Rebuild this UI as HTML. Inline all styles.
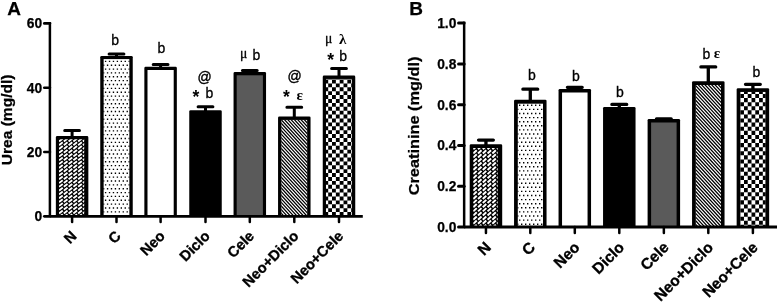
<!DOCTYPE html>
<html><head><meta charset="utf-8"><title>Figure</title>
<style>
html,body{margin:0;padding:0;background:#fff;}
body{width:778px;height:303px;overflow:hidden;font-family:"Liberation Sans",sans-serif;}
svg{display:block;will-change:transform;}
</style></head><body>
<svg width="778" height="303" viewBox="0 0 778 303">
<rect width="778" height="303" fill="#fff"/>
<defs>
<clipPath id="c1"><rect x="59.00" y="139.30" width="25.20" height="77.00"/></clipPath>
<clipPath id="c2"><rect x="103.40" y="59.10" width="26.20" height="157.20"/></clipPath>
<clipPath id="c3"><rect x="281.20" y="119.70" width="26.20" height="96.60"/></clipPath>
<clipPath id="c4"><rect x="325.90" y="78.80" width="26.20" height="137.50"/></clipPath>
<clipPath id="c5"><rect x="473.20" y="147.90" width="24.50" height="79.20"/></clipPath>
<clipPath id="c6"><rect x="517.55" y="103.40" width="25.50" height="123.70"/></clipPath>
<clipPath id="c7"><rect x="695.55" y="84.90" width="25.50" height="142.20"/></clipPath>
<clipPath id="c8"><rect x="740.15" y="91.80" width="25.50" height="135.30"/></clipPath>
</defs>
<path d="M49.9 22.07V216.3" fill="none" stroke="#000" stroke-width="2.5" stroke-linecap="butt"/>
<line x1="44.3" y1="23.40" x2="49.9" y2="23.40" stroke="#000" stroke-width="2.65" stroke-linecap="round"/>
<text x="42.1" y="28.30" text-anchor="end" font-family="Liberation Sans, sans-serif" font-weight="bold" font-size="13.8" stroke="#000" stroke-width="0.25">60</text>
<line x1="44.3" y1="87.70" x2="49.9" y2="87.70" stroke="#000" stroke-width="2.65" stroke-linecap="round"/>
<text x="42.1" y="92.60" text-anchor="end" font-family="Liberation Sans, sans-serif" font-weight="bold" font-size="13.8" stroke="#000" stroke-width="0.25">40</text>
<line x1="44.3" y1="152.00" x2="49.9" y2="152.00" stroke="#000" stroke-width="2.65" stroke-linecap="round"/>
<text x="42.1" y="156.90" text-anchor="end" font-family="Liberation Sans, sans-serif" font-weight="bold" font-size="13.8" stroke="#000" stroke-width="0.25">20</text>
<line x1="44.3" y1="216.30" x2="49.9" y2="216.30" stroke="#000" stroke-width="2.65" stroke-linecap="round"/>
<text x="42.1" y="221.20" text-anchor="end" font-family="Liberation Sans, sans-serif" font-weight="bold" font-size="13.8" stroke="#000" stroke-width="0.25">0</text>
<path d="M64.70 130.5H79.50M72.10 130.5V139.30" fill="none" stroke="#000" stroke-width="3.0" stroke-linecap="round"/>
<rect x="55.85" y="136.10" width="32.50" height="80.20" rx="1.3" fill="#000"/>
<g clip-path="url(#c1)"><rect x="59.00" y="139.30" width="26.20" height="77.00" fill="#000"/><path d="M54.28 137.59L57.98 134.75M59.05 137.59L62.75 134.75M63.82 137.59L67.52 134.75M68.59 137.59L72.29 134.75M73.36 137.59L77.06 134.75M78.13 137.59L81.83 134.75M82.90 137.59L86.60 134.75M54.28 141.38L57.98 138.54M59.05 141.38L62.75 138.54M63.82 141.38L67.52 138.54M68.59 141.38L72.29 138.54M73.36 141.38L77.06 138.54M78.13 141.38L81.83 138.54M82.90 141.38L86.60 138.54M54.28 145.17L57.98 142.33M59.05 145.17L62.75 142.33M63.82 145.17L67.52 142.33M68.59 145.17L72.29 142.33M73.36 145.17L77.06 142.33M78.13 145.17L81.83 142.33M82.90 145.17L86.60 142.33M54.28 148.96L57.98 146.12M59.05 148.96L62.75 146.12M63.82 148.96L67.52 146.12M68.59 148.96L72.29 146.12M73.36 148.96L77.06 146.12M78.13 148.96L81.83 146.12M82.90 148.96L86.60 146.12M54.28 152.75L57.98 149.91M59.05 152.75L62.75 149.91M63.82 152.75L67.52 149.91M68.59 152.75L72.29 149.91M73.36 152.75L77.06 149.91M78.13 152.75L81.83 149.91M82.90 152.75L86.60 149.91M54.28 156.54L57.98 153.70M59.05 156.54L62.75 153.70M63.82 156.54L67.52 153.70M68.59 156.54L72.29 153.70M73.36 156.54L77.06 153.70M78.13 156.54L81.83 153.70M82.90 156.54L86.60 153.70M54.28 160.33L57.98 157.49M59.05 160.33L62.75 157.49M63.82 160.33L67.52 157.49M68.59 160.33L72.29 157.49M73.36 160.33L77.06 157.49M78.13 160.33L81.83 157.49M82.90 160.33L86.60 157.49M54.28 164.12L57.98 161.28M59.05 164.12L62.75 161.28M63.82 164.12L67.52 161.28M68.59 164.12L72.29 161.28M73.36 164.12L77.06 161.28M78.13 164.12L81.83 161.28M82.90 164.12L86.60 161.28M54.28 167.91L57.98 165.07M59.05 167.91L62.75 165.07M63.82 167.91L67.52 165.07M68.59 167.91L72.29 165.07M73.36 167.91L77.06 165.07M78.13 167.91L81.83 165.07M82.90 167.91L86.60 165.07M54.28 171.70L57.98 168.86M59.05 171.70L62.75 168.86M63.82 171.70L67.52 168.86M68.59 171.70L72.29 168.86M73.36 171.70L77.06 168.86M78.13 171.70L81.83 168.86M82.90 171.70L86.60 168.86M54.28 175.49L57.98 172.65M59.05 175.49L62.75 172.65M63.82 175.49L67.52 172.65M68.59 175.49L72.29 172.65M73.36 175.49L77.06 172.65M78.13 175.49L81.83 172.65M82.90 175.49L86.60 172.65M54.28 179.28L57.98 176.44M59.05 179.28L62.75 176.44M63.82 179.28L67.52 176.44M68.59 179.28L72.29 176.44M73.36 179.28L77.06 176.44M78.13 179.28L81.83 176.44M82.90 179.28L86.60 176.44M54.28 183.07L57.98 180.23M59.05 183.07L62.75 180.23M63.82 183.07L67.52 180.23M68.59 183.07L72.29 180.23M73.36 183.07L77.06 180.23M78.13 183.07L81.83 180.23M82.90 183.07L86.60 180.23M54.28 186.86L57.98 184.02M59.05 186.86L62.75 184.02M63.82 186.86L67.52 184.02M68.59 186.86L72.29 184.02M73.36 186.86L77.06 184.02M78.13 186.86L81.83 184.02M82.90 186.86L86.60 184.02M54.28 190.65L57.98 187.81M59.05 190.65L62.75 187.81M63.82 190.65L67.52 187.81M68.59 190.65L72.29 187.81M73.36 190.65L77.06 187.81M78.13 190.65L81.83 187.81M82.90 190.65L86.60 187.81M54.28 194.44L57.98 191.60M59.05 194.44L62.75 191.60M63.82 194.44L67.52 191.60M68.59 194.44L72.29 191.60M73.36 194.44L77.06 191.60M78.13 194.44L81.83 191.60M82.90 194.44L86.60 191.60M54.28 198.23L57.98 195.39M59.05 198.23L62.75 195.39M63.82 198.23L67.52 195.39M68.59 198.23L72.29 195.39M73.36 198.23L77.06 195.39M78.13 198.23L81.83 195.39M82.90 198.23L86.60 195.39M54.28 202.02L57.98 199.18M59.05 202.02L62.75 199.18M63.82 202.02L67.52 199.18M68.59 202.02L72.29 199.18M73.36 202.02L77.06 199.18M78.13 202.02L81.83 199.18M82.90 202.02L86.60 199.18M54.28 205.81L57.98 202.97M59.05 205.81L62.75 202.97M63.82 205.81L67.52 202.97M68.59 205.81L72.29 202.97M73.36 205.81L77.06 202.97M78.13 205.81L81.83 202.97M82.90 205.81L86.60 202.97M54.28 209.60L57.98 206.76M59.05 209.60L62.75 206.76M63.82 209.60L67.52 206.76M68.59 209.60L72.29 206.76M73.36 209.60L77.06 206.76M78.13 209.60L81.83 206.76M82.90 209.60L86.60 206.76M54.28 213.39L57.98 210.55M59.05 213.39L62.75 210.55M63.82 213.39L67.52 210.55M68.59 213.39L72.29 210.55M73.36 213.39L77.06 210.55M78.13 213.39L81.83 210.55M82.90 213.39L86.60 210.55M54.28 217.18L57.98 214.34M59.05 217.18L62.75 214.34M63.82 217.18L67.52 214.34M68.59 217.18L72.29 214.34M73.36 217.18L77.06 214.34M78.13 217.18L81.83 214.34M82.90 217.18L86.60 214.34M54.28 220.97L57.98 218.13M59.05 220.97L62.75 218.13M63.82 220.97L67.52 218.13M68.59 220.97L72.29 218.13M73.36 220.97L77.06 218.13M78.13 220.97L81.83 218.13M82.90 220.97L86.60 218.13" stroke="#fff" stroke-width="1.9" stroke-linecap="butt" fill="none"/></g>
<line x1="72.10" y1="216.3" x2="72.10" y2="221.90" stroke="#000" stroke-width="2.5" stroke-linecap="round"/>
<path d="M109.10 53.9H123.90M116.50 53.9V59.10" fill="none" stroke="#000" stroke-width="3.0" stroke-linecap="round"/>
<rect x="100.25" y="55.90" width="32.50" height="160.40" rx="1.3" fill="#000"/>
<g clip-path="url(#c2)"><rect x="103.40" y="59.10" width="26.20" height="157.20" fill="#fff"/><path d="M100.99 60.66h1.36v1.36h-1.36zM104.92 60.66h1.36v1.36h-1.36zM108.85 60.66h1.36v1.36h-1.36zM112.78 60.66h1.36v1.36h-1.36zM116.71 60.66h1.36v1.36h-1.36zM120.64 60.66h1.36v1.36h-1.36zM124.57 60.66h1.36v1.36h-1.36zM128.50 60.66h1.36v1.36h-1.36zM100.99 68.38h1.36v1.36h-1.36zM104.92 68.38h1.36v1.36h-1.36zM108.85 68.38h1.36v1.36h-1.36zM112.78 68.38h1.36v1.36h-1.36zM116.71 68.38h1.36v1.36h-1.36zM120.64 68.38h1.36v1.36h-1.36zM124.57 68.38h1.36v1.36h-1.36zM128.50 68.38h1.36v1.36h-1.36zM100.99 76.10h1.36v1.36h-1.36zM104.92 76.10h1.36v1.36h-1.36zM108.85 76.10h1.36v1.36h-1.36zM112.78 76.10h1.36v1.36h-1.36zM116.71 76.10h1.36v1.36h-1.36zM120.64 76.10h1.36v1.36h-1.36zM124.57 76.10h1.36v1.36h-1.36zM128.50 76.10h1.36v1.36h-1.36zM100.99 83.82h1.36v1.36h-1.36zM104.92 83.82h1.36v1.36h-1.36zM108.85 83.82h1.36v1.36h-1.36zM112.78 83.82h1.36v1.36h-1.36zM116.71 83.82h1.36v1.36h-1.36zM120.64 83.82h1.36v1.36h-1.36zM124.57 83.82h1.36v1.36h-1.36zM128.50 83.82h1.36v1.36h-1.36zM100.99 91.54h1.36v1.36h-1.36zM104.92 91.54h1.36v1.36h-1.36zM108.85 91.54h1.36v1.36h-1.36zM112.78 91.54h1.36v1.36h-1.36zM116.71 91.54h1.36v1.36h-1.36zM120.64 91.54h1.36v1.36h-1.36zM124.57 91.54h1.36v1.36h-1.36zM128.50 91.54h1.36v1.36h-1.36zM100.99 99.26h1.36v1.36h-1.36zM104.92 99.26h1.36v1.36h-1.36zM108.85 99.26h1.36v1.36h-1.36zM112.78 99.26h1.36v1.36h-1.36zM116.71 99.26h1.36v1.36h-1.36zM120.64 99.26h1.36v1.36h-1.36zM124.57 99.26h1.36v1.36h-1.36zM128.50 99.26h1.36v1.36h-1.36zM100.99 106.98h1.36v1.36h-1.36zM104.92 106.98h1.36v1.36h-1.36zM108.85 106.98h1.36v1.36h-1.36zM112.78 106.98h1.36v1.36h-1.36zM116.71 106.98h1.36v1.36h-1.36zM120.64 106.98h1.36v1.36h-1.36zM124.57 106.98h1.36v1.36h-1.36zM128.50 106.98h1.36v1.36h-1.36zM100.99 114.70h1.36v1.36h-1.36zM104.92 114.70h1.36v1.36h-1.36zM108.85 114.70h1.36v1.36h-1.36zM112.78 114.70h1.36v1.36h-1.36zM116.71 114.70h1.36v1.36h-1.36zM120.64 114.70h1.36v1.36h-1.36zM124.57 114.70h1.36v1.36h-1.36zM128.50 114.70h1.36v1.36h-1.36zM100.99 122.42h1.36v1.36h-1.36zM104.92 122.42h1.36v1.36h-1.36zM108.85 122.42h1.36v1.36h-1.36zM112.78 122.42h1.36v1.36h-1.36zM116.71 122.42h1.36v1.36h-1.36zM120.64 122.42h1.36v1.36h-1.36zM124.57 122.42h1.36v1.36h-1.36zM128.50 122.42h1.36v1.36h-1.36zM100.99 130.14h1.36v1.36h-1.36zM104.92 130.14h1.36v1.36h-1.36zM108.85 130.14h1.36v1.36h-1.36zM112.78 130.14h1.36v1.36h-1.36zM116.71 130.14h1.36v1.36h-1.36zM120.64 130.14h1.36v1.36h-1.36zM124.57 130.14h1.36v1.36h-1.36zM128.50 130.14h1.36v1.36h-1.36zM100.99 137.86h1.36v1.36h-1.36zM104.92 137.86h1.36v1.36h-1.36zM108.85 137.86h1.36v1.36h-1.36zM112.78 137.86h1.36v1.36h-1.36zM116.71 137.86h1.36v1.36h-1.36zM120.64 137.86h1.36v1.36h-1.36zM124.57 137.86h1.36v1.36h-1.36zM128.50 137.86h1.36v1.36h-1.36zM100.99 145.58h1.36v1.36h-1.36zM104.92 145.58h1.36v1.36h-1.36zM108.85 145.58h1.36v1.36h-1.36zM112.78 145.58h1.36v1.36h-1.36zM116.71 145.58h1.36v1.36h-1.36zM120.64 145.58h1.36v1.36h-1.36zM124.57 145.58h1.36v1.36h-1.36zM128.50 145.58h1.36v1.36h-1.36zM100.99 153.30h1.36v1.36h-1.36zM104.92 153.30h1.36v1.36h-1.36zM108.85 153.30h1.36v1.36h-1.36zM112.78 153.30h1.36v1.36h-1.36zM116.71 153.30h1.36v1.36h-1.36zM120.64 153.30h1.36v1.36h-1.36zM124.57 153.30h1.36v1.36h-1.36zM128.50 153.30h1.36v1.36h-1.36zM100.99 161.02h1.36v1.36h-1.36zM104.92 161.02h1.36v1.36h-1.36zM108.85 161.02h1.36v1.36h-1.36zM112.78 161.02h1.36v1.36h-1.36zM116.71 161.02h1.36v1.36h-1.36zM120.64 161.02h1.36v1.36h-1.36zM124.57 161.02h1.36v1.36h-1.36zM128.50 161.02h1.36v1.36h-1.36zM100.99 168.74h1.36v1.36h-1.36zM104.92 168.74h1.36v1.36h-1.36zM108.85 168.74h1.36v1.36h-1.36zM112.78 168.74h1.36v1.36h-1.36zM116.71 168.74h1.36v1.36h-1.36zM120.64 168.74h1.36v1.36h-1.36zM124.57 168.74h1.36v1.36h-1.36zM128.50 168.74h1.36v1.36h-1.36zM100.99 176.46h1.36v1.36h-1.36zM104.92 176.46h1.36v1.36h-1.36zM108.85 176.46h1.36v1.36h-1.36zM112.78 176.46h1.36v1.36h-1.36zM116.71 176.46h1.36v1.36h-1.36zM120.64 176.46h1.36v1.36h-1.36zM124.57 176.46h1.36v1.36h-1.36zM128.50 176.46h1.36v1.36h-1.36zM100.99 184.18h1.36v1.36h-1.36zM104.92 184.18h1.36v1.36h-1.36zM108.85 184.18h1.36v1.36h-1.36zM112.78 184.18h1.36v1.36h-1.36zM116.71 184.18h1.36v1.36h-1.36zM120.64 184.18h1.36v1.36h-1.36zM124.57 184.18h1.36v1.36h-1.36zM128.50 184.18h1.36v1.36h-1.36zM100.99 191.90h1.36v1.36h-1.36zM104.92 191.90h1.36v1.36h-1.36zM108.85 191.90h1.36v1.36h-1.36zM112.78 191.90h1.36v1.36h-1.36zM116.71 191.90h1.36v1.36h-1.36zM120.64 191.90h1.36v1.36h-1.36zM124.57 191.90h1.36v1.36h-1.36zM128.50 191.90h1.36v1.36h-1.36zM100.99 199.62h1.36v1.36h-1.36zM104.92 199.62h1.36v1.36h-1.36zM108.85 199.62h1.36v1.36h-1.36zM112.78 199.62h1.36v1.36h-1.36zM116.71 199.62h1.36v1.36h-1.36zM120.64 199.62h1.36v1.36h-1.36zM124.57 199.62h1.36v1.36h-1.36zM128.50 199.62h1.36v1.36h-1.36zM100.99 207.34h1.36v1.36h-1.36zM104.92 207.34h1.36v1.36h-1.36zM108.85 207.34h1.36v1.36h-1.36zM112.78 207.34h1.36v1.36h-1.36zM116.71 207.34h1.36v1.36h-1.36zM120.64 207.34h1.36v1.36h-1.36zM124.57 207.34h1.36v1.36h-1.36zM128.50 207.34h1.36v1.36h-1.36zM100.99 215.06h1.36v1.36h-1.36zM104.92 215.06h1.36v1.36h-1.36zM108.85 215.06h1.36v1.36h-1.36zM112.78 215.06h1.36v1.36h-1.36zM116.71 215.06h1.36v1.36h-1.36zM120.64 215.06h1.36v1.36h-1.36zM124.57 215.06h1.36v1.36h-1.36zM128.50 215.06h1.36v1.36h-1.36zM102.95 56.80h1.36v1.36h-1.36zM106.88 56.80h1.36v1.36h-1.36zM110.81 56.80h1.36v1.36h-1.36zM114.75 56.80h1.36v1.36h-1.36zM118.68 56.80h1.36v1.36h-1.36zM122.61 56.80h1.36v1.36h-1.36zM126.54 56.80h1.36v1.36h-1.36zM130.47 56.80h1.36v1.36h-1.36zM102.95 64.52h1.36v1.36h-1.36zM106.88 64.52h1.36v1.36h-1.36zM110.81 64.52h1.36v1.36h-1.36zM114.75 64.52h1.36v1.36h-1.36zM118.68 64.52h1.36v1.36h-1.36zM122.61 64.52h1.36v1.36h-1.36zM126.54 64.52h1.36v1.36h-1.36zM130.47 64.52h1.36v1.36h-1.36zM102.95 72.24h1.36v1.36h-1.36zM106.88 72.24h1.36v1.36h-1.36zM110.81 72.24h1.36v1.36h-1.36zM114.75 72.24h1.36v1.36h-1.36zM118.68 72.24h1.36v1.36h-1.36zM122.61 72.24h1.36v1.36h-1.36zM126.54 72.24h1.36v1.36h-1.36zM130.47 72.24h1.36v1.36h-1.36zM102.95 79.96h1.36v1.36h-1.36zM106.88 79.96h1.36v1.36h-1.36zM110.81 79.96h1.36v1.36h-1.36zM114.75 79.96h1.36v1.36h-1.36zM118.68 79.96h1.36v1.36h-1.36zM122.61 79.96h1.36v1.36h-1.36zM126.54 79.96h1.36v1.36h-1.36zM130.47 79.96h1.36v1.36h-1.36zM102.95 87.68h1.36v1.36h-1.36zM106.88 87.68h1.36v1.36h-1.36zM110.81 87.68h1.36v1.36h-1.36zM114.75 87.68h1.36v1.36h-1.36zM118.68 87.68h1.36v1.36h-1.36zM122.61 87.68h1.36v1.36h-1.36zM126.54 87.68h1.36v1.36h-1.36zM130.47 87.68h1.36v1.36h-1.36zM102.95 95.40h1.36v1.36h-1.36zM106.88 95.40h1.36v1.36h-1.36zM110.81 95.40h1.36v1.36h-1.36zM114.75 95.40h1.36v1.36h-1.36zM118.68 95.40h1.36v1.36h-1.36zM122.61 95.40h1.36v1.36h-1.36zM126.54 95.40h1.36v1.36h-1.36zM130.47 95.40h1.36v1.36h-1.36zM102.95 103.12h1.36v1.36h-1.36zM106.88 103.12h1.36v1.36h-1.36zM110.81 103.12h1.36v1.36h-1.36zM114.75 103.12h1.36v1.36h-1.36zM118.68 103.12h1.36v1.36h-1.36zM122.61 103.12h1.36v1.36h-1.36zM126.54 103.12h1.36v1.36h-1.36zM130.47 103.12h1.36v1.36h-1.36zM102.95 110.84h1.36v1.36h-1.36zM106.88 110.84h1.36v1.36h-1.36zM110.81 110.84h1.36v1.36h-1.36zM114.75 110.84h1.36v1.36h-1.36zM118.68 110.84h1.36v1.36h-1.36zM122.61 110.84h1.36v1.36h-1.36zM126.54 110.84h1.36v1.36h-1.36zM130.47 110.84h1.36v1.36h-1.36zM102.95 118.56h1.36v1.36h-1.36zM106.88 118.56h1.36v1.36h-1.36zM110.81 118.56h1.36v1.36h-1.36zM114.75 118.56h1.36v1.36h-1.36zM118.68 118.56h1.36v1.36h-1.36zM122.61 118.56h1.36v1.36h-1.36zM126.54 118.56h1.36v1.36h-1.36zM130.47 118.56h1.36v1.36h-1.36zM102.95 126.28h1.36v1.36h-1.36zM106.88 126.28h1.36v1.36h-1.36zM110.81 126.28h1.36v1.36h-1.36zM114.75 126.28h1.36v1.36h-1.36zM118.68 126.28h1.36v1.36h-1.36zM122.61 126.28h1.36v1.36h-1.36zM126.54 126.28h1.36v1.36h-1.36zM130.47 126.28h1.36v1.36h-1.36zM102.95 134.00h1.36v1.36h-1.36zM106.88 134.00h1.36v1.36h-1.36zM110.81 134.00h1.36v1.36h-1.36zM114.75 134.00h1.36v1.36h-1.36zM118.68 134.00h1.36v1.36h-1.36zM122.61 134.00h1.36v1.36h-1.36zM126.54 134.00h1.36v1.36h-1.36zM130.47 134.00h1.36v1.36h-1.36zM102.95 141.72h1.36v1.36h-1.36zM106.88 141.72h1.36v1.36h-1.36zM110.81 141.72h1.36v1.36h-1.36zM114.75 141.72h1.36v1.36h-1.36zM118.68 141.72h1.36v1.36h-1.36zM122.61 141.72h1.36v1.36h-1.36zM126.54 141.72h1.36v1.36h-1.36zM130.47 141.72h1.36v1.36h-1.36zM102.95 149.44h1.36v1.36h-1.36zM106.88 149.44h1.36v1.36h-1.36zM110.81 149.44h1.36v1.36h-1.36zM114.75 149.44h1.36v1.36h-1.36zM118.68 149.44h1.36v1.36h-1.36zM122.61 149.44h1.36v1.36h-1.36zM126.54 149.44h1.36v1.36h-1.36zM130.47 149.44h1.36v1.36h-1.36zM102.95 157.16h1.36v1.36h-1.36zM106.88 157.16h1.36v1.36h-1.36zM110.81 157.16h1.36v1.36h-1.36zM114.75 157.16h1.36v1.36h-1.36zM118.68 157.16h1.36v1.36h-1.36zM122.61 157.16h1.36v1.36h-1.36zM126.54 157.16h1.36v1.36h-1.36zM130.47 157.16h1.36v1.36h-1.36zM102.95 164.88h1.36v1.36h-1.36zM106.88 164.88h1.36v1.36h-1.36zM110.81 164.88h1.36v1.36h-1.36zM114.75 164.88h1.36v1.36h-1.36zM118.68 164.88h1.36v1.36h-1.36zM122.61 164.88h1.36v1.36h-1.36zM126.54 164.88h1.36v1.36h-1.36zM130.47 164.88h1.36v1.36h-1.36zM102.95 172.60h1.36v1.36h-1.36zM106.88 172.60h1.36v1.36h-1.36zM110.81 172.60h1.36v1.36h-1.36zM114.75 172.60h1.36v1.36h-1.36zM118.68 172.60h1.36v1.36h-1.36zM122.61 172.60h1.36v1.36h-1.36zM126.54 172.60h1.36v1.36h-1.36zM130.47 172.60h1.36v1.36h-1.36zM102.95 180.32h1.36v1.36h-1.36zM106.88 180.32h1.36v1.36h-1.36zM110.81 180.32h1.36v1.36h-1.36zM114.75 180.32h1.36v1.36h-1.36zM118.68 180.32h1.36v1.36h-1.36zM122.61 180.32h1.36v1.36h-1.36zM126.54 180.32h1.36v1.36h-1.36zM130.47 180.32h1.36v1.36h-1.36zM102.95 188.04h1.36v1.36h-1.36zM106.88 188.04h1.36v1.36h-1.36zM110.81 188.04h1.36v1.36h-1.36zM114.75 188.04h1.36v1.36h-1.36zM118.68 188.04h1.36v1.36h-1.36zM122.61 188.04h1.36v1.36h-1.36zM126.54 188.04h1.36v1.36h-1.36zM130.47 188.04h1.36v1.36h-1.36zM102.95 195.76h1.36v1.36h-1.36zM106.88 195.76h1.36v1.36h-1.36zM110.81 195.76h1.36v1.36h-1.36zM114.75 195.76h1.36v1.36h-1.36zM118.68 195.76h1.36v1.36h-1.36zM122.61 195.76h1.36v1.36h-1.36zM126.54 195.76h1.36v1.36h-1.36zM130.47 195.76h1.36v1.36h-1.36zM102.95 203.48h1.36v1.36h-1.36zM106.88 203.48h1.36v1.36h-1.36zM110.81 203.48h1.36v1.36h-1.36zM114.75 203.48h1.36v1.36h-1.36zM118.68 203.48h1.36v1.36h-1.36zM122.61 203.48h1.36v1.36h-1.36zM126.54 203.48h1.36v1.36h-1.36zM130.47 203.48h1.36v1.36h-1.36zM102.95 211.20h1.36v1.36h-1.36zM106.88 211.20h1.36v1.36h-1.36zM110.81 211.20h1.36v1.36h-1.36zM114.75 211.20h1.36v1.36h-1.36zM118.68 211.20h1.36v1.36h-1.36zM122.61 211.20h1.36v1.36h-1.36zM126.54 211.20h1.36v1.36h-1.36zM130.47 211.20h1.36v1.36h-1.36z" fill="#000"/></g>
<line x1="116.50" y1="216.3" x2="116.50" y2="221.90" stroke="#000" stroke-width="2.5" stroke-linecap="round"/>
<path d="M153.20 64.5H168.00M160.60 64.5V70.00" fill="none" stroke="#000" stroke-width="3.0" stroke-linecap="round"/>
<rect x="144.35" y="66.80" width="32.50" height="149.50" rx="1.3" fill="#000"/>
<rect x="147.50" y="70.00" width="26.20" height="146.30" fill="#fff"/>
<line x1="160.60" y1="216.3" x2="160.60" y2="221.90" stroke="#000" stroke-width="2.5" stroke-linecap="round"/>
<path d="M198.10 106.7H212.90M205.50 106.7V113.40" fill="none" stroke="#000" stroke-width="3.0" stroke-linecap="round"/>
<rect x="189.25" y="110.20" width="32.50" height="106.10" rx="1.3" fill="#000"/>
<line x1="205.50" y1="216.3" x2="205.50" y2="221.90" stroke="#000" stroke-width="2.5" stroke-linecap="round"/>
<path d="M242.40 70.5H257.20M249.80 70.5V75.30" fill="none" stroke="#000" stroke-width="3.0" stroke-linecap="round"/>
<rect x="233.55" y="72.10" width="32.50" height="144.20" rx="1.3" fill="#000"/>
<rect x="236.70" y="75.30" width="26.20" height="141.00" fill="#5a5a5a"/>
<line x1="249.80" y1="216.3" x2="249.80" y2="221.90" stroke="#000" stroke-width="2.5" stroke-linecap="round"/>
<path d="M286.90 107.3H301.70M294.30 107.3V119.70" fill="none" stroke="#000" stroke-width="3.0" stroke-linecap="round"/>
<rect x="278.05" y="116.50" width="32.50" height="99.80" rx="1.3" fill="#000"/>
<g clip-path="url(#c3)"><rect x="281.20" y="119.70" width="26.20" height="96.60" fill="#fff"/><path d="M186.99 117.70L279.29 218.30M190.29 117.70L282.59 218.30M193.59 117.70L285.89 218.30M196.89 117.70L289.19 218.30M200.19 117.70L292.49 218.30M203.49 117.70L295.79 218.30M206.79 117.70L299.09 218.30M210.09 117.70L302.39 218.30M213.39 117.70L305.69 218.30M216.69 117.70L308.99 218.30M219.99 117.70L312.29 218.30M223.29 117.70L315.59 218.30M226.59 117.70L318.89 218.30M229.89 117.70L322.19 218.30M233.19 117.70L325.49 218.30M236.49 117.70L328.79 218.30M239.79 117.70L332.09 218.30M243.09 117.70L335.39 218.30M246.39 117.70L338.69 218.30M249.69 117.70L341.99 218.30M252.99 117.70L345.29 218.30M256.29 117.70L348.59 218.30M259.59 117.70L351.89 218.30M262.89 117.70L355.19 218.30M266.19 117.70L358.49 218.30M269.49 117.70L361.79 218.30M272.79 117.70L365.09 218.30M276.09 117.70L368.39 218.30M279.39 117.70L371.69 218.30M282.69 117.70L374.99 218.30M285.99 117.70L378.29 218.30M289.29 117.70L381.59 218.30M292.59 117.70L384.89 218.30M295.89 117.70L388.19 218.30M299.19 117.70L391.49 218.30M302.49 117.70L394.79 218.30M305.79 117.70L398.09 218.30M309.09 117.70L401.39 218.30" stroke="#000" stroke-width="1.26" fill="none"/></g>
<line x1="294.30" y1="216.3" x2="294.30" y2="221.90" stroke="#000" stroke-width="2.5" stroke-linecap="round"/>
<path d="M331.60 68.5H346.40M339.00 68.5V78.80" fill="none" stroke="#000" stroke-width="3.0" stroke-linecap="round"/>
<rect x="322.75" y="75.60" width="32.50" height="140.70" rx="1.3" fill="#000"/>
<g clip-path="url(#c4)"><rect x="325.90" y="78.80" width="26.20" height="137.50" fill="#fff"/><path d="M324.37 71.70h3.83v3.90h-3.83zM332.03 71.70h3.83v3.90h-3.83zM339.69 71.70h3.83v3.90h-3.83zM347.35 71.70h3.83v3.90h-3.83zM355.01 71.70h3.83v3.90h-3.83zM320.54 75.60h3.83v3.90h-3.83zM328.20 75.60h3.83v3.90h-3.83zM335.86 75.60h3.83v3.90h-3.83zM343.52 75.60h3.83v3.90h-3.83zM351.18 75.60h3.83v3.90h-3.83zM358.84 75.60h3.83v3.90h-3.83zM324.37 79.50h3.83v3.90h-3.83zM332.03 79.50h3.83v3.90h-3.83zM339.69 79.50h3.83v3.90h-3.83zM347.35 79.50h3.83v3.90h-3.83zM355.01 79.50h3.83v3.90h-3.83zM320.54 83.40h3.83v3.90h-3.83zM328.20 83.40h3.83v3.90h-3.83zM335.86 83.40h3.83v3.90h-3.83zM343.52 83.40h3.83v3.90h-3.83zM351.18 83.40h3.83v3.90h-3.83zM358.84 83.40h3.83v3.90h-3.83zM324.37 87.30h3.83v3.90h-3.83zM332.03 87.30h3.83v3.90h-3.83zM339.69 87.30h3.83v3.90h-3.83zM347.35 87.30h3.83v3.90h-3.83zM355.01 87.30h3.83v3.90h-3.83zM320.54 91.20h3.83v3.90h-3.83zM328.20 91.20h3.83v3.90h-3.83zM335.86 91.20h3.83v3.90h-3.83zM343.52 91.20h3.83v3.90h-3.83zM351.18 91.20h3.83v3.90h-3.83zM358.84 91.20h3.83v3.90h-3.83zM324.37 95.10h3.83v3.90h-3.83zM332.03 95.10h3.83v3.90h-3.83zM339.69 95.10h3.83v3.90h-3.83zM347.35 95.10h3.83v3.90h-3.83zM355.01 95.10h3.83v3.90h-3.83zM320.54 99.00h3.83v3.90h-3.83zM328.20 99.00h3.83v3.90h-3.83zM335.86 99.00h3.83v3.90h-3.83zM343.52 99.00h3.83v3.90h-3.83zM351.18 99.00h3.83v3.90h-3.83zM358.84 99.00h3.83v3.90h-3.83zM324.37 102.90h3.83v3.90h-3.83zM332.03 102.90h3.83v3.90h-3.83zM339.69 102.90h3.83v3.90h-3.83zM347.35 102.90h3.83v3.90h-3.83zM355.01 102.90h3.83v3.90h-3.83zM320.54 106.80h3.83v3.90h-3.83zM328.20 106.80h3.83v3.90h-3.83zM335.86 106.80h3.83v3.90h-3.83zM343.52 106.80h3.83v3.90h-3.83zM351.18 106.80h3.83v3.90h-3.83zM358.84 106.80h3.83v3.90h-3.83zM324.37 110.70h3.83v3.90h-3.83zM332.03 110.70h3.83v3.90h-3.83zM339.69 110.70h3.83v3.90h-3.83zM347.35 110.70h3.83v3.90h-3.83zM355.01 110.70h3.83v3.90h-3.83zM320.54 114.60h3.83v3.90h-3.83zM328.20 114.60h3.83v3.90h-3.83zM335.86 114.60h3.83v3.90h-3.83zM343.52 114.60h3.83v3.90h-3.83zM351.18 114.60h3.83v3.90h-3.83zM358.84 114.60h3.83v3.90h-3.83zM324.37 118.50h3.83v3.90h-3.83zM332.03 118.50h3.83v3.90h-3.83zM339.69 118.50h3.83v3.90h-3.83zM347.35 118.50h3.83v3.90h-3.83zM355.01 118.50h3.83v3.90h-3.83zM320.54 122.40h3.83v3.90h-3.83zM328.20 122.40h3.83v3.90h-3.83zM335.86 122.40h3.83v3.90h-3.83zM343.52 122.40h3.83v3.90h-3.83zM351.18 122.40h3.83v3.90h-3.83zM358.84 122.40h3.83v3.90h-3.83zM324.37 126.30h3.83v3.90h-3.83zM332.03 126.30h3.83v3.90h-3.83zM339.69 126.30h3.83v3.90h-3.83zM347.35 126.30h3.83v3.90h-3.83zM355.01 126.30h3.83v3.90h-3.83zM320.54 130.20h3.83v3.90h-3.83zM328.20 130.20h3.83v3.90h-3.83zM335.86 130.20h3.83v3.90h-3.83zM343.52 130.20h3.83v3.90h-3.83zM351.18 130.20h3.83v3.90h-3.83zM358.84 130.20h3.83v3.90h-3.83zM324.37 134.10h3.83v3.90h-3.83zM332.03 134.10h3.83v3.90h-3.83zM339.69 134.10h3.83v3.90h-3.83zM347.35 134.10h3.83v3.90h-3.83zM355.01 134.10h3.83v3.90h-3.83zM320.54 138.00h3.83v3.90h-3.83zM328.20 138.00h3.83v3.90h-3.83zM335.86 138.00h3.83v3.90h-3.83zM343.52 138.00h3.83v3.90h-3.83zM351.18 138.00h3.83v3.90h-3.83zM358.84 138.00h3.83v3.90h-3.83zM324.37 141.90h3.83v3.90h-3.83zM332.03 141.90h3.83v3.90h-3.83zM339.69 141.90h3.83v3.90h-3.83zM347.35 141.90h3.83v3.90h-3.83zM355.01 141.90h3.83v3.90h-3.83zM320.54 145.80h3.83v3.90h-3.83zM328.20 145.80h3.83v3.90h-3.83zM335.86 145.80h3.83v3.90h-3.83zM343.52 145.80h3.83v3.90h-3.83zM351.18 145.80h3.83v3.90h-3.83zM358.84 145.80h3.83v3.90h-3.83zM324.37 149.70h3.83v3.90h-3.83zM332.03 149.70h3.83v3.90h-3.83zM339.69 149.70h3.83v3.90h-3.83zM347.35 149.70h3.83v3.90h-3.83zM355.01 149.70h3.83v3.90h-3.83zM320.54 153.60h3.83v3.90h-3.83zM328.20 153.60h3.83v3.90h-3.83zM335.86 153.60h3.83v3.90h-3.83zM343.52 153.60h3.83v3.90h-3.83zM351.18 153.60h3.83v3.90h-3.83zM358.84 153.60h3.83v3.90h-3.83zM324.37 157.50h3.83v3.90h-3.83zM332.03 157.50h3.83v3.90h-3.83zM339.69 157.50h3.83v3.90h-3.83zM347.35 157.50h3.83v3.90h-3.83zM355.01 157.50h3.83v3.90h-3.83zM320.54 161.40h3.83v3.90h-3.83zM328.20 161.40h3.83v3.90h-3.83zM335.86 161.40h3.83v3.90h-3.83zM343.52 161.40h3.83v3.90h-3.83zM351.18 161.40h3.83v3.90h-3.83zM358.84 161.40h3.83v3.90h-3.83zM324.37 165.30h3.83v3.90h-3.83zM332.03 165.30h3.83v3.90h-3.83zM339.69 165.30h3.83v3.90h-3.83zM347.35 165.30h3.83v3.90h-3.83zM355.01 165.30h3.83v3.90h-3.83zM320.54 169.20h3.83v3.90h-3.83zM328.20 169.20h3.83v3.90h-3.83zM335.86 169.20h3.83v3.90h-3.83zM343.52 169.20h3.83v3.90h-3.83zM351.18 169.20h3.83v3.90h-3.83zM358.84 169.20h3.83v3.90h-3.83zM324.37 173.10h3.83v3.90h-3.83zM332.03 173.10h3.83v3.90h-3.83zM339.69 173.10h3.83v3.90h-3.83zM347.35 173.10h3.83v3.90h-3.83zM355.01 173.10h3.83v3.90h-3.83zM320.54 177.00h3.83v3.90h-3.83zM328.20 177.00h3.83v3.90h-3.83zM335.86 177.00h3.83v3.90h-3.83zM343.52 177.00h3.83v3.90h-3.83zM351.18 177.00h3.83v3.90h-3.83zM358.84 177.00h3.83v3.90h-3.83zM324.37 180.90h3.83v3.90h-3.83zM332.03 180.90h3.83v3.90h-3.83zM339.69 180.90h3.83v3.90h-3.83zM347.35 180.90h3.83v3.90h-3.83zM355.01 180.90h3.83v3.90h-3.83zM320.54 184.80h3.83v3.90h-3.83zM328.20 184.80h3.83v3.90h-3.83zM335.86 184.80h3.83v3.90h-3.83zM343.52 184.80h3.83v3.90h-3.83zM351.18 184.80h3.83v3.90h-3.83zM358.84 184.80h3.83v3.90h-3.83zM324.37 188.70h3.83v3.90h-3.83zM332.03 188.70h3.83v3.90h-3.83zM339.69 188.70h3.83v3.90h-3.83zM347.35 188.70h3.83v3.90h-3.83zM355.01 188.70h3.83v3.90h-3.83zM320.54 192.60h3.83v3.90h-3.83zM328.20 192.60h3.83v3.90h-3.83zM335.86 192.60h3.83v3.90h-3.83zM343.52 192.60h3.83v3.90h-3.83zM351.18 192.60h3.83v3.90h-3.83zM358.84 192.60h3.83v3.90h-3.83zM324.37 196.50h3.83v3.90h-3.83zM332.03 196.50h3.83v3.90h-3.83zM339.69 196.50h3.83v3.90h-3.83zM347.35 196.50h3.83v3.90h-3.83zM355.01 196.50h3.83v3.90h-3.83zM320.54 200.40h3.83v3.90h-3.83zM328.20 200.40h3.83v3.90h-3.83zM335.86 200.40h3.83v3.90h-3.83zM343.52 200.40h3.83v3.90h-3.83zM351.18 200.40h3.83v3.90h-3.83zM358.84 200.40h3.83v3.90h-3.83zM324.37 204.30h3.83v3.90h-3.83zM332.03 204.30h3.83v3.90h-3.83zM339.69 204.30h3.83v3.90h-3.83zM347.35 204.30h3.83v3.90h-3.83zM355.01 204.30h3.83v3.90h-3.83zM320.54 208.20h3.83v3.90h-3.83zM328.20 208.20h3.83v3.90h-3.83zM335.86 208.20h3.83v3.90h-3.83zM343.52 208.20h3.83v3.90h-3.83zM351.18 208.20h3.83v3.90h-3.83zM358.84 208.20h3.83v3.90h-3.83zM324.37 212.10h3.83v3.90h-3.83zM332.03 212.10h3.83v3.90h-3.83zM339.69 212.10h3.83v3.90h-3.83zM347.35 212.10h3.83v3.90h-3.83zM355.01 212.10h3.83v3.90h-3.83zM320.54 216.00h3.83v3.90h-3.83zM328.20 216.00h3.83v3.90h-3.83zM335.86 216.00h3.83v3.90h-3.83zM343.52 216.00h3.83v3.90h-3.83zM351.18 216.00h3.83v3.90h-3.83zM358.84 216.00h3.83v3.90h-3.83zM324.37 219.90h3.83v3.90h-3.83zM332.03 219.90h3.83v3.90h-3.83zM339.69 219.90h3.83v3.90h-3.83zM347.35 219.90h3.83v3.90h-3.83zM355.01 219.90h3.83v3.90h-3.83zM320.54 223.80h3.83v3.90h-3.83zM328.20 223.80h3.83v3.90h-3.83zM335.86 223.80h3.83v3.90h-3.83zM343.52 223.80h3.83v3.90h-3.83zM351.18 223.80h3.83v3.90h-3.83zM358.84 223.80h3.83v3.90h-3.83z" fill="#000"/></g>
<line x1="339.00" y1="216.3" x2="339.00" y2="221.90" stroke="#000" stroke-width="2.5" stroke-linecap="round"/>
<line x1="49.9" y1="216.3" x2="362.8" y2="216.3" stroke="#000" stroke-width="2.65" stroke-linecap="butt"/>
<text transform="translate(77.40 236.90) rotate(-45)" text-anchor="end" font-family="Liberation Sans, sans-serif" font-weight="bold" font-size="14.7" stroke="#000" stroke-width="0.35">N</text>
<text transform="translate(121.80 236.90) rotate(-45)" text-anchor="end" font-family="Liberation Sans, sans-serif" font-weight="bold" font-size="14.7" stroke="#000" stroke-width="0.35">C</text>
<text transform="translate(165.90 236.90) rotate(-45)" text-anchor="end" font-family="Liberation Sans, sans-serif" font-weight="bold" font-size="14.7" stroke="#000" stroke-width="0.35">Neo</text>
<text transform="translate(210.80 236.90) rotate(-45)" text-anchor="end" font-family="Liberation Sans, sans-serif" font-weight="bold" font-size="14.7" stroke="#000" stroke-width="0.35">Diclo</text>
<text transform="translate(255.10 236.90) rotate(-45)" text-anchor="end" font-family="Liberation Sans, sans-serif" font-weight="bold" font-size="14.7" stroke="#000" stroke-width="0.35">Cele</text>
<text transform="translate(299.60 236.90) rotate(-45)" text-anchor="end" font-family="Liberation Sans, sans-serif" font-weight="bold" font-size="14.7" stroke="#000" stroke-width="0.35">Neo+Diclo</text>
<text transform="translate(344.30 236.90) rotate(-45)" text-anchor="end" font-family="Liberation Sans, sans-serif" font-weight="bold" font-size="14.7" stroke="#000" stroke-width="0.35">Neo+Cele</text>
<text transform="translate(12.4 119.9) rotate(-90) scale(1.128 1)" text-anchor="middle" font-family="Liberation Sans, sans-serif" font-weight="bold" font-size="13.8" stroke="#000" stroke-width="0.25">Urea (mg/dl)</text>
<text x="7.2" y="15" font-family="Liberation Sans, sans-serif" font-weight="bold" font-size="19" stroke="#000" stroke-width="0.25">A</text>
<path d="M464.15 21.60V227.1" fill="none" stroke="#000" stroke-width="2.5" stroke-linecap="butt"/>
<line x1="458.54999999999995" y1="23.10" x2="464.15" y2="23.10" stroke="#000" stroke-width="3.0" stroke-linecap="round"/>
<text x="456.34999999999997" y="28.00" text-anchor="end" font-family="Liberation Sans, sans-serif" font-weight="bold" font-size="13.8" stroke="#000" stroke-width="0.25">1.0</text>
<line x1="458.54999999999995" y1="63.90" x2="464.15" y2="63.90" stroke="#000" stroke-width="3.0" stroke-linecap="round"/>
<text x="456.34999999999997" y="68.80" text-anchor="end" font-family="Liberation Sans, sans-serif" font-weight="bold" font-size="13.8" stroke="#000" stroke-width="0.25">0.8</text>
<line x1="458.54999999999995" y1="104.70" x2="464.15" y2="104.70" stroke="#000" stroke-width="3.0" stroke-linecap="round"/>
<text x="456.34999999999997" y="109.60" text-anchor="end" font-family="Liberation Sans, sans-serif" font-weight="bold" font-size="13.8" stroke="#000" stroke-width="0.25">0.6</text>
<line x1="458.54999999999995" y1="145.50" x2="464.15" y2="145.50" stroke="#000" stroke-width="3.0" stroke-linecap="round"/>
<text x="456.34999999999997" y="150.40" text-anchor="end" font-family="Liberation Sans, sans-serif" font-weight="bold" font-size="13.8" stroke="#000" stroke-width="0.25">0.4</text>
<line x1="458.54999999999995" y1="186.30" x2="464.15" y2="186.30" stroke="#000" stroke-width="3.0" stroke-linecap="round"/>
<text x="456.34999999999997" y="191.20" text-anchor="end" font-family="Liberation Sans, sans-serif" font-weight="bold" font-size="13.8" stroke="#000" stroke-width="0.25">0.2</text>
<line x1="458.54999999999995" y1="227.10" x2="464.15" y2="227.10" stroke="#000" stroke-width="3.0" stroke-linecap="round"/>
<text x="456.34999999999997" y="232.00" text-anchor="end" font-family="Liberation Sans, sans-serif" font-weight="bold" font-size="13.8" stroke="#000" stroke-width="0.25">0.0</text>
<path d="M478.55 140.1H493.35M485.95 140.1V147.90" fill="none" stroke="#000" stroke-width="3.3" stroke-linecap="round"/>
<rect x="469.70" y="144.30" width="32.50" height="82.80" rx="1.3" fill="#000"/>
<g clip-path="url(#c5)"><rect x="473.20" y="147.90" width="25.50" height="79.20" fill="#000"/><path d="M468.48 149.28L471.98 146.04M473.25 149.28L476.75 146.04M478.02 149.28L481.52 146.04M482.79 149.28L486.29 146.04M487.56 149.28L491.06 146.04M492.33 149.28L495.83 146.04M497.10 149.28L500.60 146.04M468.48 153.42L471.98 150.18M473.25 153.42L476.75 150.18M478.02 153.42L481.52 150.18M482.79 153.42L486.29 150.18M487.56 153.42L491.06 150.18M492.33 153.42L495.83 150.18M497.10 153.42L500.60 150.18M468.48 157.56L471.98 154.32M473.25 157.56L476.75 154.32M478.02 157.56L481.52 154.32M482.79 157.56L486.29 154.32M487.56 157.56L491.06 154.32M492.33 157.56L495.83 154.32M497.10 157.56L500.60 154.32M468.48 161.70L471.98 158.46M473.25 161.70L476.75 158.46M478.02 161.70L481.52 158.46M482.79 161.70L486.29 158.46M487.56 161.70L491.06 158.46M492.33 161.70L495.83 158.46M497.10 161.70L500.60 158.46M468.48 165.84L471.98 162.60M473.25 165.84L476.75 162.60M478.02 165.84L481.52 162.60M482.79 165.84L486.29 162.60M487.56 165.84L491.06 162.60M492.33 165.84L495.83 162.60M497.10 165.84L500.60 162.60M468.48 169.98L471.98 166.74M473.25 169.98L476.75 166.74M478.02 169.98L481.52 166.74M482.79 169.98L486.29 166.74M487.56 169.98L491.06 166.74M492.33 169.98L495.83 166.74M497.10 169.98L500.60 166.74M468.48 174.12L471.98 170.88M473.25 174.12L476.75 170.88M478.02 174.12L481.52 170.88M482.79 174.12L486.29 170.88M487.56 174.12L491.06 170.88M492.33 174.12L495.83 170.88M497.10 174.12L500.60 170.88M468.48 178.26L471.98 175.02M473.25 178.26L476.75 175.02M478.02 178.26L481.52 175.02M482.79 178.26L486.29 175.02M487.56 178.26L491.06 175.02M492.33 178.26L495.83 175.02M497.10 178.26L500.60 175.02M468.48 182.40L471.98 179.16M473.25 182.40L476.75 179.16M478.02 182.40L481.52 179.16M482.79 182.40L486.29 179.16M487.56 182.40L491.06 179.16M492.33 182.40L495.83 179.16M497.10 182.40L500.60 179.16M468.48 186.54L471.98 183.30M473.25 186.54L476.75 183.30M478.02 186.54L481.52 183.30M482.79 186.54L486.29 183.30M487.56 186.54L491.06 183.30M492.33 186.54L495.83 183.30M497.10 186.54L500.60 183.30M468.48 190.68L471.98 187.44M473.25 190.68L476.75 187.44M478.02 190.68L481.52 187.44M482.79 190.68L486.29 187.44M487.56 190.68L491.06 187.44M492.33 190.68L495.83 187.44M497.10 190.68L500.60 187.44M468.48 194.82L471.98 191.58M473.25 194.82L476.75 191.58M478.02 194.82L481.52 191.58M482.79 194.82L486.29 191.58M487.56 194.82L491.06 191.58M492.33 194.82L495.83 191.58M497.10 194.82L500.60 191.58M468.48 198.96L471.98 195.72M473.25 198.96L476.75 195.72M478.02 198.96L481.52 195.72M482.79 198.96L486.29 195.72M487.56 198.96L491.06 195.72M492.33 198.96L495.83 195.72M497.10 198.96L500.60 195.72M468.48 203.10L471.98 199.86M473.25 203.10L476.75 199.86M478.02 203.10L481.52 199.86M482.79 203.10L486.29 199.86M487.56 203.10L491.06 199.86M492.33 203.10L495.83 199.86M497.10 203.10L500.60 199.86M468.48 207.24L471.98 204.00M473.25 207.24L476.75 204.00M478.02 207.24L481.52 204.00M482.79 207.24L486.29 204.00M487.56 207.24L491.06 204.00M492.33 207.24L495.83 204.00M497.10 207.24L500.60 204.00M468.48 211.38L471.98 208.14M473.25 211.38L476.75 208.14M478.02 211.38L481.52 208.14M482.79 211.38L486.29 208.14M487.56 211.38L491.06 208.14M492.33 211.38L495.83 208.14M497.10 211.38L500.60 208.14M468.48 215.52L471.98 212.28M473.25 215.52L476.75 212.28M478.02 215.52L481.52 212.28M482.79 215.52L486.29 212.28M487.56 215.52L491.06 212.28M492.33 215.52L495.83 212.28M497.10 215.52L500.60 212.28M468.48 219.66L471.98 216.42M473.25 219.66L476.75 216.42M478.02 219.66L481.52 216.42M482.79 219.66L486.29 216.42M487.56 219.66L491.06 216.42M492.33 219.66L495.83 216.42M497.10 219.66L500.60 216.42M468.48 223.80L471.98 220.56M473.25 223.80L476.75 220.56M478.02 223.80L481.52 220.56M482.79 223.80L486.29 220.56M487.56 223.80L491.06 220.56M492.33 223.80L495.83 220.56M497.10 223.80L500.60 220.56M468.48 227.94L471.98 224.70M473.25 227.94L476.75 224.70M478.02 227.94L481.52 224.70M482.79 227.94L486.29 224.70M487.56 227.94L491.06 224.70M492.33 227.94L495.83 224.70M497.10 227.94L500.60 224.70M468.48 232.08L471.98 228.84M473.25 232.08L476.75 228.84M478.02 232.08L481.52 228.84M482.79 232.08L486.29 228.84M487.56 232.08L491.06 228.84M492.33 232.08L495.83 228.84M497.10 232.08L500.60 228.84" stroke="#fff" stroke-width="2.0" stroke-linecap="butt" fill="none"/></g>
<line x1="485.95" y1="227.1" x2="485.95" y2="232.90" stroke="#000" stroke-width="2.5" stroke-linecap="round"/>
<path d="M522.90 89.2H537.70M530.30 89.2V103.40" fill="none" stroke="#000" stroke-width="3.3" stroke-linecap="round"/>
<rect x="514.05" y="99.80" width="32.50" height="127.30" rx="1.3" fill="#000"/>
<g clip-path="url(#c6)"><rect x="517.55" y="103.40" width="25.50" height="123.70" fill="#fff"/><path d="M515.02 104.62h1.36v1.36h-1.36zM519.02 104.62h1.36v1.36h-1.36zM523.02 104.62h1.36v1.36h-1.36zM527.02 104.62h1.36v1.36h-1.36zM531.02 104.62h1.36v1.36h-1.36zM535.02 104.62h1.36v1.36h-1.36zM539.02 104.62h1.36v1.36h-1.36zM543.02 104.62h1.36v1.36h-1.36zM515.02 112.82h1.36v1.36h-1.36zM519.02 112.82h1.36v1.36h-1.36zM523.02 112.82h1.36v1.36h-1.36zM527.02 112.82h1.36v1.36h-1.36zM531.02 112.82h1.36v1.36h-1.36zM535.02 112.82h1.36v1.36h-1.36zM539.02 112.82h1.36v1.36h-1.36zM543.02 112.82h1.36v1.36h-1.36zM515.02 121.02h1.36v1.36h-1.36zM519.02 121.02h1.36v1.36h-1.36zM523.02 121.02h1.36v1.36h-1.36zM527.02 121.02h1.36v1.36h-1.36zM531.02 121.02h1.36v1.36h-1.36zM535.02 121.02h1.36v1.36h-1.36zM539.02 121.02h1.36v1.36h-1.36zM543.02 121.02h1.36v1.36h-1.36zM515.02 129.22h1.36v1.36h-1.36zM519.02 129.22h1.36v1.36h-1.36zM523.02 129.22h1.36v1.36h-1.36zM527.02 129.22h1.36v1.36h-1.36zM531.02 129.22h1.36v1.36h-1.36zM535.02 129.22h1.36v1.36h-1.36zM539.02 129.22h1.36v1.36h-1.36zM543.02 129.22h1.36v1.36h-1.36zM515.02 137.42h1.36v1.36h-1.36zM519.02 137.42h1.36v1.36h-1.36zM523.02 137.42h1.36v1.36h-1.36zM527.02 137.42h1.36v1.36h-1.36zM531.02 137.42h1.36v1.36h-1.36zM535.02 137.42h1.36v1.36h-1.36zM539.02 137.42h1.36v1.36h-1.36zM543.02 137.42h1.36v1.36h-1.36zM515.02 145.62h1.36v1.36h-1.36zM519.02 145.62h1.36v1.36h-1.36zM523.02 145.62h1.36v1.36h-1.36zM527.02 145.62h1.36v1.36h-1.36zM531.02 145.62h1.36v1.36h-1.36zM535.02 145.62h1.36v1.36h-1.36zM539.02 145.62h1.36v1.36h-1.36zM543.02 145.62h1.36v1.36h-1.36zM515.02 153.82h1.36v1.36h-1.36zM519.02 153.82h1.36v1.36h-1.36zM523.02 153.82h1.36v1.36h-1.36zM527.02 153.82h1.36v1.36h-1.36zM531.02 153.82h1.36v1.36h-1.36zM535.02 153.82h1.36v1.36h-1.36zM539.02 153.82h1.36v1.36h-1.36zM543.02 153.82h1.36v1.36h-1.36zM515.02 162.02h1.36v1.36h-1.36zM519.02 162.02h1.36v1.36h-1.36zM523.02 162.02h1.36v1.36h-1.36zM527.02 162.02h1.36v1.36h-1.36zM531.02 162.02h1.36v1.36h-1.36zM535.02 162.02h1.36v1.36h-1.36zM539.02 162.02h1.36v1.36h-1.36zM543.02 162.02h1.36v1.36h-1.36zM515.02 170.22h1.36v1.36h-1.36zM519.02 170.22h1.36v1.36h-1.36zM523.02 170.22h1.36v1.36h-1.36zM527.02 170.22h1.36v1.36h-1.36zM531.02 170.22h1.36v1.36h-1.36zM535.02 170.22h1.36v1.36h-1.36zM539.02 170.22h1.36v1.36h-1.36zM543.02 170.22h1.36v1.36h-1.36zM515.02 178.42h1.36v1.36h-1.36zM519.02 178.42h1.36v1.36h-1.36zM523.02 178.42h1.36v1.36h-1.36zM527.02 178.42h1.36v1.36h-1.36zM531.02 178.42h1.36v1.36h-1.36zM535.02 178.42h1.36v1.36h-1.36zM539.02 178.42h1.36v1.36h-1.36zM543.02 178.42h1.36v1.36h-1.36zM515.02 186.62h1.36v1.36h-1.36zM519.02 186.62h1.36v1.36h-1.36zM523.02 186.62h1.36v1.36h-1.36zM527.02 186.62h1.36v1.36h-1.36zM531.02 186.62h1.36v1.36h-1.36zM535.02 186.62h1.36v1.36h-1.36zM539.02 186.62h1.36v1.36h-1.36zM543.02 186.62h1.36v1.36h-1.36zM515.02 194.82h1.36v1.36h-1.36zM519.02 194.82h1.36v1.36h-1.36zM523.02 194.82h1.36v1.36h-1.36zM527.02 194.82h1.36v1.36h-1.36zM531.02 194.82h1.36v1.36h-1.36zM535.02 194.82h1.36v1.36h-1.36zM539.02 194.82h1.36v1.36h-1.36zM543.02 194.82h1.36v1.36h-1.36zM515.02 203.02h1.36v1.36h-1.36zM519.02 203.02h1.36v1.36h-1.36zM523.02 203.02h1.36v1.36h-1.36zM527.02 203.02h1.36v1.36h-1.36zM531.02 203.02h1.36v1.36h-1.36zM535.02 203.02h1.36v1.36h-1.36zM539.02 203.02h1.36v1.36h-1.36zM543.02 203.02h1.36v1.36h-1.36zM515.02 211.22h1.36v1.36h-1.36zM519.02 211.22h1.36v1.36h-1.36zM523.02 211.22h1.36v1.36h-1.36zM527.02 211.22h1.36v1.36h-1.36zM531.02 211.22h1.36v1.36h-1.36zM535.02 211.22h1.36v1.36h-1.36zM539.02 211.22h1.36v1.36h-1.36zM543.02 211.22h1.36v1.36h-1.36zM515.02 219.42h1.36v1.36h-1.36zM519.02 219.42h1.36v1.36h-1.36zM523.02 219.42h1.36v1.36h-1.36zM527.02 219.42h1.36v1.36h-1.36zM531.02 219.42h1.36v1.36h-1.36zM535.02 219.42h1.36v1.36h-1.36zM539.02 219.42h1.36v1.36h-1.36zM543.02 219.42h1.36v1.36h-1.36zM515.02 227.62h1.36v1.36h-1.36zM519.02 227.62h1.36v1.36h-1.36zM523.02 227.62h1.36v1.36h-1.36zM527.02 227.62h1.36v1.36h-1.36zM531.02 227.62h1.36v1.36h-1.36zM535.02 227.62h1.36v1.36h-1.36zM539.02 227.62h1.36v1.36h-1.36zM543.02 227.62h1.36v1.36h-1.36zM517.02 108.72h1.36v1.36h-1.36zM521.02 108.72h1.36v1.36h-1.36zM525.02 108.72h1.36v1.36h-1.36zM529.02 108.72h1.36v1.36h-1.36zM533.02 108.72h1.36v1.36h-1.36zM537.02 108.72h1.36v1.36h-1.36zM541.02 108.72h1.36v1.36h-1.36zM517.02 116.92h1.36v1.36h-1.36zM521.02 116.92h1.36v1.36h-1.36zM525.02 116.92h1.36v1.36h-1.36zM529.02 116.92h1.36v1.36h-1.36zM533.02 116.92h1.36v1.36h-1.36zM537.02 116.92h1.36v1.36h-1.36zM541.02 116.92h1.36v1.36h-1.36zM517.02 125.12h1.36v1.36h-1.36zM521.02 125.12h1.36v1.36h-1.36zM525.02 125.12h1.36v1.36h-1.36zM529.02 125.12h1.36v1.36h-1.36zM533.02 125.12h1.36v1.36h-1.36zM537.02 125.12h1.36v1.36h-1.36zM541.02 125.12h1.36v1.36h-1.36zM517.02 133.32h1.36v1.36h-1.36zM521.02 133.32h1.36v1.36h-1.36zM525.02 133.32h1.36v1.36h-1.36zM529.02 133.32h1.36v1.36h-1.36zM533.02 133.32h1.36v1.36h-1.36zM537.02 133.32h1.36v1.36h-1.36zM541.02 133.32h1.36v1.36h-1.36zM517.02 141.52h1.36v1.36h-1.36zM521.02 141.52h1.36v1.36h-1.36zM525.02 141.52h1.36v1.36h-1.36zM529.02 141.52h1.36v1.36h-1.36zM533.02 141.52h1.36v1.36h-1.36zM537.02 141.52h1.36v1.36h-1.36zM541.02 141.52h1.36v1.36h-1.36zM517.02 149.72h1.36v1.36h-1.36zM521.02 149.72h1.36v1.36h-1.36zM525.02 149.72h1.36v1.36h-1.36zM529.02 149.72h1.36v1.36h-1.36zM533.02 149.72h1.36v1.36h-1.36zM537.02 149.72h1.36v1.36h-1.36zM541.02 149.72h1.36v1.36h-1.36zM517.02 157.92h1.36v1.36h-1.36zM521.02 157.92h1.36v1.36h-1.36zM525.02 157.92h1.36v1.36h-1.36zM529.02 157.92h1.36v1.36h-1.36zM533.02 157.92h1.36v1.36h-1.36zM537.02 157.92h1.36v1.36h-1.36zM541.02 157.92h1.36v1.36h-1.36zM517.02 166.12h1.36v1.36h-1.36zM521.02 166.12h1.36v1.36h-1.36zM525.02 166.12h1.36v1.36h-1.36zM529.02 166.12h1.36v1.36h-1.36zM533.02 166.12h1.36v1.36h-1.36zM537.02 166.12h1.36v1.36h-1.36zM541.02 166.12h1.36v1.36h-1.36zM517.02 174.32h1.36v1.36h-1.36zM521.02 174.32h1.36v1.36h-1.36zM525.02 174.32h1.36v1.36h-1.36zM529.02 174.32h1.36v1.36h-1.36zM533.02 174.32h1.36v1.36h-1.36zM537.02 174.32h1.36v1.36h-1.36zM541.02 174.32h1.36v1.36h-1.36zM517.02 182.52h1.36v1.36h-1.36zM521.02 182.52h1.36v1.36h-1.36zM525.02 182.52h1.36v1.36h-1.36zM529.02 182.52h1.36v1.36h-1.36zM533.02 182.52h1.36v1.36h-1.36zM537.02 182.52h1.36v1.36h-1.36zM541.02 182.52h1.36v1.36h-1.36zM517.02 190.72h1.36v1.36h-1.36zM521.02 190.72h1.36v1.36h-1.36zM525.02 190.72h1.36v1.36h-1.36zM529.02 190.72h1.36v1.36h-1.36zM533.02 190.72h1.36v1.36h-1.36zM537.02 190.72h1.36v1.36h-1.36zM541.02 190.72h1.36v1.36h-1.36zM517.02 198.92h1.36v1.36h-1.36zM521.02 198.92h1.36v1.36h-1.36zM525.02 198.92h1.36v1.36h-1.36zM529.02 198.92h1.36v1.36h-1.36zM533.02 198.92h1.36v1.36h-1.36zM537.02 198.92h1.36v1.36h-1.36zM541.02 198.92h1.36v1.36h-1.36zM517.02 207.12h1.36v1.36h-1.36zM521.02 207.12h1.36v1.36h-1.36zM525.02 207.12h1.36v1.36h-1.36zM529.02 207.12h1.36v1.36h-1.36zM533.02 207.12h1.36v1.36h-1.36zM537.02 207.12h1.36v1.36h-1.36zM541.02 207.12h1.36v1.36h-1.36zM517.02 215.32h1.36v1.36h-1.36zM521.02 215.32h1.36v1.36h-1.36zM525.02 215.32h1.36v1.36h-1.36zM529.02 215.32h1.36v1.36h-1.36zM533.02 215.32h1.36v1.36h-1.36zM537.02 215.32h1.36v1.36h-1.36zM541.02 215.32h1.36v1.36h-1.36zM517.02 223.52h1.36v1.36h-1.36zM521.02 223.52h1.36v1.36h-1.36zM525.02 223.52h1.36v1.36h-1.36zM529.02 223.52h1.36v1.36h-1.36zM533.02 223.52h1.36v1.36h-1.36zM537.02 223.52h1.36v1.36h-1.36zM541.02 223.52h1.36v1.36h-1.36z" fill="#000"/></g>
<line x1="530.30" y1="227.1" x2="530.30" y2="232.90" stroke="#000" stroke-width="2.5" stroke-linecap="round"/>
<path d="M567.40 87.3H582.20M574.80 87.3V92.50" fill="none" stroke="#000" stroke-width="3.3" stroke-linecap="round"/>
<rect x="558.55" y="88.90" width="32.50" height="138.20" rx="1.3" fill="#000"/>
<rect x="562.05" y="92.50" width="25.50" height="134.60" fill="#fff"/>
<line x1="574.80" y1="227.1" x2="574.80" y2="232.90" stroke="#000" stroke-width="2.5" stroke-linecap="round"/>
<path d="M611.90 104.4H626.70M619.30 104.4V110.50" fill="none" stroke="#000" stroke-width="3.3" stroke-linecap="round"/>
<rect x="603.05" y="106.90" width="32.50" height="120.20" rx="1.3" fill="#000"/>
<line x1="619.30" y1="227.1" x2="619.30" y2="232.90" stroke="#000" stroke-width="2.5" stroke-linecap="round"/>
<path d="M656.45 119.0H671.25M663.85 119.0V122.50" fill="none" stroke="#000" stroke-width="3.3" stroke-linecap="round"/>
<rect x="647.60" y="118.90" width="32.50" height="108.20" rx="1.3" fill="#000"/>
<rect x="651.10" y="122.50" width="25.50" height="104.60" fill="#5a5a5a"/>
<line x1="663.85" y1="227.1" x2="663.85" y2="232.90" stroke="#000" stroke-width="2.5" stroke-linecap="round"/>
<path d="M700.90 66.9H715.70M708.30 66.9V84.90" fill="none" stroke="#000" stroke-width="3.3" stroke-linecap="round"/>
<rect x="692.05" y="81.30" width="32.50" height="145.80" rx="1.3" fill="#000"/>
<g clip-path="url(#c7)"><rect x="695.55" y="84.90" width="25.50" height="142.20" fill="#fff"/><path d="M559.19 82.90L693.32 229.10M562.54 82.90L696.67 229.10M565.89 82.90L700.02 229.10M569.24 82.90L703.37 229.10M572.59 82.90L706.72 229.10M575.94 82.90L710.07 229.10M579.29 82.90L713.42 229.10M582.64 82.90L716.77 229.10M585.99 82.90L720.12 229.10M589.34 82.90L723.47 229.10M592.69 82.90L726.82 229.10M596.04 82.90L730.17 229.10M599.39 82.90L733.52 229.10M602.74 82.90L736.87 229.10M606.09 82.90L740.22 229.10M609.44 82.90L743.57 229.10M612.79 82.90L746.92 229.10M616.14 82.90L750.27 229.10M619.49 82.90L753.62 229.10M622.84 82.90L756.97 229.10M626.19 82.90L760.32 229.10M629.54 82.90L763.67 229.10M632.89 82.90L767.02 229.10M636.24 82.90L770.37 229.10M639.59 82.90L773.72 229.10M642.94 82.90L777.07 229.10M646.29 82.90L780.42 229.10M649.64 82.90L783.77 229.10M652.99 82.90L787.12 229.10M656.34 82.90L790.47 229.10M659.69 82.90L793.82 229.10M663.04 82.90L797.17 229.10M666.39 82.90L800.52 229.10M669.74 82.90L803.87 229.10M673.09 82.90L807.22 229.10M676.44 82.90L810.57 229.10M679.79 82.90L813.92 229.10M683.14 82.90L817.27 229.10M686.49 82.90L820.62 229.10M689.84 82.90L823.97 229.10M693.19 82.90L827.32 229.10M696.54 82.90L830.67 229.10M699.89 82.90L834.02 229.10M703.24 82.90L837.37 229.10M706.59 82.90L840.72 229.10M709.94 82.90L844.07 229.10M713.29 82.90L847.42 229.10M716.64 82.90L850.77 229.10M719.99 82.90L854.12 229.10M723.34 82.90L857.47 229.10" stroke="#000" stroke-width="1.28" fill="none"/></g>
<line x1="708.30" y1="227.1" x2="708.30" y2="232.90" stroke="#000" stroke-width="2.5" stroke-linecap="round"/>
<path d="M745.50 84.3H760.30M752.90 84.3V91.80" fill="none" stroke="#000" stroke-width="3.3" stroke-linecap="round"/>
<rect x="736.65" y="88.20" width="32.50" height="138.90" rx="1.3" fill="#000"/>
<g clip-path="url(#c8)"><rect x="740.15" y="91.80" width="25.50" height="135.30" fill="#fff"/><path d="M732.66 85.81h3.77v4.09h-3.77zM740.20 85.81h3.77v4.09h-3.77zM747.74 85.81h3.77v4.09h-3.77zM755.28 85.81h3.77v4.09h-3.77zM762.82 85.81h3.77v4.09h-3.77zM770.36 85.81h3.77v4.09h-3.77zM736.43 89.90h3.77v4.09h-3.77zM743.97 89.90h3.77v4.09h-3.77zM751.51 89.90h3.77v4.09h-3.77zM759.05 89.90h3.77v4.09h-3.77zM766.59 89.90h3.77v4.09h-3.77zM732.66 93.99h3.77v4.09h-3.77zM740.20 93.99h3.77v4.09h-3.77zM747.74 93.99h3.77v4.09h-3.77zM755.28 93.99h3.77v4.09h-3.77zM762.82 93.99h3.77v4.09h-3.77zM770.36 93.99h3.77v4.09h-3.77zM736.43 98.08h3.77v4.09h-3.77zM743.97 98.08h3.77v4.09h-3.77zM751.51 98.08h3.77v4.09h-3.77zM759.05 98.08h3.77v4.09h-3.77zM766.59 98.08h3.77v4.09h-3.77zM732.66 102.17h3.77v4.09h-3.77zM740.20 102.17h3.77v4.09h-3.77zM747.74 102.17h3.77v4.09h-3.77zM755.28 102.17h3.77v4.09h-3.77zM762.82 102.17h3.77v4.09h-3.77zM770.36 102.17h3.77v4.09h-3.77zM736.43 106.26h3.77v4.09h-3.77zM743.97 106.26h3.77v4.09h-3.77zM751.51 106.26h3.77v4.09h-3.77zM759.05 106.26h3.77v4.09h-3.77zM766.59 106.26h3.77v4.09h-3.77zM732.66 110.35h3.77v4.09h-3.77zM740.20 110.35h3.77v4.09h-3.77zM747.74 110.35h3.77v4.09h-3.77zM755.28 110.35h3.77v4.09h-3.77zM762.82 110.35h3.77v4.09h-3.77zM770.36 110.35h3.77v4.09h-3.77zM736.43 114.44h3.77v4.09h-3.77zM743.97 114.44h3.77v4.09h-3.77zM751.51 114.44h3.77v4.09h-3.77zM759.05 114.44h3.77v4.09h-3.77zM766.59 114.44h3.77v4.09h-3.77zM732.66 118.53h3.77v4.09h-3.77zM740.20 118.53h3.77v4.09h-3.77zM747.74 118.53h3.77v4.09h-3.77zM755.28 118.53h3.77v4.09h-3.77zM762.82 118.53h3.77v4.09h-3.77zM770.36 118.53h3.77v4.09h-3.77zM736.43 122.62h3.77v4.09h-3.77zM743.97 122.62h3.77v4.09h-3.77zM751.51 122.62h3.77v4.09h-3.77zM759.05 122.62h3.77v4.09h-3.77zM766.59 122.62h3.77v4.09h-3.77zM732.66 126.71h3.77v4.09h-3.77zM740.20 126.71h3.77v4.09h-3.77zM747.74 126.71h3.77v4.09h-3.77zM755.28 126.71h3.77v4.09h-3.77zM762.82 126.71h3.77v4.09h-3.77zM770.36 126.71h3.77v4.09h-3.77zM736.43 130.80h3.77v4.09h-3.77zM743.97 130.80h3.77v4.09h-3.77zM751.51 130.80h3.77v4.09h-3.77zM759.05 130.80h3.77v4.09h-3.77zM766.59 130.80h3.77v4.09h-3.77zM732.66 134.89h3.77v4.09h-3.77zM740.20 134.89h3.77v4.09h-3.77zM747.74 134.89h3.77v4.09h-3.77zM755.28 134.89h3.77v4.09h-3.77zM762.82 134.89h3.77v4.09h-3.77zM770.36 134.89h3.77v4.09h-3.77zM736.43 138.98h3.77v4.09h-3.77zM743.97 138.98h3.77v4.09h-3.77zM751.51 138.98h3.77v4.09h-3.77zM759.05 138.98h3.77v4.09h-3.77zM766.59 138.98h3.77v4.09h-3.77zM732.66 143.07h3.77v4.09h-3.77zM740.20 143.07h3.77v4.09h-3.77zM747.74 143.07h3.77v4.09h-3.77zM755.28 143.07h3.77v4.09h-3.77zM762.82 143.07h3.77v4.09h-3.77zM770.36 143.07h3.77v4.09h-3.77zM736.43 147.16h3.77v4.09h-3.77zM743.97 147.16h3.77v4.09h-3.77zM751.51 147.16h3.77v4.09h-3.77zM759.05 147.16h3.77v4.09h-3.77zM766.59 147.16h3.77v4.09h-3.77zM732.66 151.25h3.77v4.09h-3.77zM740.20 151.25h3.77v4.09h-3.77zM747.74 151.25h3.77v4.09h-3.77zM755.28 151.25h3.77v4.09h-3.77zM762.82 151.25h3.77v4.09h-3.77zM770.36 151.25h3.77v4.09h-3.77zM736.43 155.34h3.77v4.09h-3.77zM743.97 155.34h3.77v4.09h-3.77zM751.51 155.34h3.77v4.09h-3.77zM759.05 155.34h3.77v4.09h-3.77zM766.59 155.34h3.77v4.09h-3.77zM732.66 159.43h3.77v4.09h-3.77zM740.20 159.43h3.77v4.09h-3.77zM747.74 159.43h3.77v4.09h-3.77zM755.28 159.43h3.77v4.09h-3.77zM762.82 159.43h3.77v4.09h-3.77zM770.36 159.43h3.77v4.09h-3.77zM736.43 163.52h3.77v4.09h-3.77zM743.97 163.52h3.77v4.09h-3.77zM751.51 163.52h3.77v4.09h-3.77zM759.05 163.52h3.77v4.09h-3.77zM766.59 163.52h3.77v4.09h-3.77zM732.66 167.61h3.77v4.09h-3.77zM740.20 167.61h3.77v4.09h-3.77zM747.74 167.61h3.77v4.09h-3.77zM755.28 167.61h3.77v4.09h-3.77zM762.82 167.61h3.77v4.09h-3.77zM770.36 167.61h3.77v4.09h-3.77zM736.43 171.70h3.77v4.09h-3.77zM743.97 171.70h3.77v4.09h-3.77zM751.51 171.70h3.77v4.09h-3.77zM759.05 171.70h3.77v4.09h-3.77zM766.59 171.70h3.77v4.09h-3.77zM732.66 175.79h3.77v4.09h-3.77zM740.20 175.79h3.77v4.09h-3.77zM747.74 175.79h3.77v4.09h-3.77zM755.28 175.79h3.77v4.09h-3.77zM762.82 175.79h3.77v4.09h-3.77zM770.36 175.79h3.77v4.09h-3.77zM736.43 179.88h3.77v4.09h-3.77zM743.97 179.88h3.77v4.09h-3.77zM751.51 179.88h3.77v4.09h-3.77zM759.05 179.88h3.77v4.09h-3.77zM766.59 179.88h3.77v4.09h-3.77zM732.66 183.97h3.77v4.09h-3.77zM740.20 183.97h3.77v4.09h-3.77zM747.74 183.97h3.77v4.09h-3.77zM755.28 183.97h3.77v4.09h-3.77zM762.82 183.97h3.77v4.09h-3.77zM770.36 183.97h3.77v4.09h-3.77zM736.43 188.06h3.77v4.09h-3.77zM743.97 188.06h3.77v4.09h-3.77zM751.51 188.06h3.77v4.09h-3.77zM759.05 188.06h3.77v4.09h-3.77zM766.59 188.06h3.77v4.09h-3.77zM732.66 192.15h3.77v4.09h-3.77zM740.20 192.15h3.77v4.09h-3.77zM747.74 192.15h3.77v4.09h-3.77zM755.28 192.15h3.77v4.09h-3.77zM762.82 192.15h3.77v4.09h-3.77zM770.36 192.15h3.77v4.09h-3.77zM736.43 196.24h3.77v4.09h-3.77zM743.97 196.24h3.77v4.09h-3.77zM751.51 196.24h3.77v4.09h-3.77zM759.05 196.24h3.77v4.09h-3.77zM766.59 196.24h3.77v4.09h-3.77zM732.66 200.33h3.77v4.09h-3.77zM740.20 200.33h3.77v4.09h-3.77zM747.74 200.33h3.77v4.09h-3.77zM755.28 200.33h3.77v4.09h-3.77zM762.82 200.33h3.77v4.09h-3.77zM770.36 200.33h3.77v4.09h-3.77zM736.43 204.42h3.77v4.09h-3.77zM743.97 204.42h3.77v4.09h-3.77zM751.51 204.42h3.77v4.09h-3.77zM759.05 204.42h3.77v4.09h-3.77zM766.59 204.42h3.77v4.09h-3.77zM732.66 208.51h3.77v4.09h-3.77zM740.20 208.51h3.77v4.09h-3.77zM747.74 208.51h3.77v4.09h-3.77zM755.28 208.51h3.77v4.09h-3.77zM762.82 208.51h3.77v4.09h-3.77zM770.36 208.51h3.77v4.09h-3.77zM736.43 212.60h3.77v4.09h-3.77zM743.97 212.60h3.77v4.09h-3.77zM751.51 212.60h3.77v4.09h-3.77zM759.05 212.60h3.77v4.09h-3.77zM766.59 212.60h3.77v4.09h-3.77zM732.66 216.69h3.77v4.09h-3.77zM740.20 216.69h3.77v4.09h-3.77zM747.74 216.69h3.77v4.09h-3.77zM755.28 216.69h3.77v4.09h-3.77zM762.82 216.69h3.77v4.09h-3.77zM770.36 216.69h3.77v4.09h-3.77zM736.43 220.78h3.77v4.09h-3.77zM743.97 220.78h3.77v4.09h-3.77zM751.51 220.78h3.77v4.09h-3.77zM759.05 220.78h3.77v4.09h-3.77zM766.59 220.78h3.77v4.09h-3.77zM732.66 224.87h3.77v4.09h-3.77zM740.20 224.87h3.77v4.09h-3.77zM747.74 224.87h3.77v4.09h-3.77zM755.28 224.87h3.77v4.09h-3.77zM762.82 224.87h3.77v4.09h-3.77zM770.36 224.87h3.77v4.09h-3.77zM736.43 228.96h3.77v4.09h-3.77zM743.97 228.96h3.77v4.09h-3.77zM751.51 228.96h3.77v4.09h-3.77zM759.05 228.96h3.77v4.09h-3.77zM766.59 228.96h3.77v4.09h-3.77zM732.66 233.05h3.77v4.09h-3.77zM740.20 233.05h3.77v4.09h-3.77zM747.74 233.05h3.77v4.09h-3.77zM755.28 233.05h3.77v4.09h-3.77zM762.82 233.05h3.77v4.09h-3.77zM770.36 233.05h3.77v4.09h-3.77z" fill="#000"/></g>
<line x1="752.90" y1="227.1" x2="752.90" y2="232.90" stroke="#000" stroke-width="2.5" stroke-linecap="round"/>
<line x1="464.15" y1="227.1" x2="777" y2="227.1" stroke="#000" stroke-width="3.0" stroke-linecap="butt"/>
<text transform="translate(491.85 248.30) rotate(-45)" text-anchor="end" font-family="Liberation Sans, sans-serif" font-weight="bold" font-size="15.45" stroke="#000" stroke-width="0.35">N</text>
<text transform="translate(536.20 248.30) rotate(-45)" text-anchor="end" font-family="Liberation Sans, sans-serif" font-weight="bold" font-size="15.45" stroke="#000" stroke-width="0.35">C</text>
<text transform="translate(580.70 248.30) rotate(-45)" text-anchor="end" font-family="Liberation Sans, sans-serif" font-weight="bold" font-size="15.45" stroke="#000" stroke-width="0.35">Neo</text>
<text transform="translate(625.20 248.30) rotate(-45)" text-anchor="end" font-family="Liberation Sans, sans-serif" font-weight="bold" font-size="15.45" stroke="#000" stroke-width="0.35">Diclo</text>
<text transform="translate(669.75 248.30) rotate(-45)" text-anchor="end" font-family="Liberation Sans, sans-serif" font-weight="bold" font-size="15.45" stroke="#000" stroke-width="0.35">Cele</text>
<text transform="translate(714.20 248.30) rotate(-45)" text-anchor="end" font-family="Liberation Sans, sans-serif" font-weight="bold" font-size="15.45" stroke="#000" stroke-width="0.35">Neo+Diclo</text>
<text transform="translate(758.80 248.30) rotate(-45)" text-anchor="end" font-family="Liberation Sans, sans-serif" font-weight="bold" font-size="15.45" stroke="#000" stroke-width="0.35">Neo+Cele</text>
<text transform="translate(419.2 125.9) rotate(-90) scale(1.09 1)" text-anchor="middle" font-family="Liberation Sans, sans-serif" font-weight="bold" font-size="15.0" stroke="#000" stroke-width="0.25">Creatinine (mg/dl)</text>
<text x="409.3" y="15" font-family="Liberation Sans, sans-serif" font-weight="bold" font-size="19" stroke="#000" stroke-width="0.25">B</text>
<text x="111.21" y="44.60" font-family="Liberation Sans, sans-serif" font-weight="normal" font-size="14" stroke="#000" stroke-width="0.3">b</text>
<text x="157.54" y="52.91" font-family="Liberation Sans, sans-serif" font-weight="normal" font-size="14" stroke="#000" stroke-width="0.3">b</text>
<text x="197.41" y="82.01" font-family="Liberation Sans, sans-serif" font-weight="normal" font-size="14" stroke="#000" stroke-width="0.4">@</text>
<text x="192.39" y="103.12" font-family="Liberation Sans, sans-serif" font-weight="bold" font-size="17.5">*</text>
<text x="205.49" y="97.85" font-family="Liberation Sans, sans-serif" font-weight="normal" font-size="14" stroke="#000" stroke-width="0.3">b</text>
<text x="240.09" y="57.97" font-family="Liberation Serif, serif" font-weight="normal" font-size="13.6" stroke="#000" stroke-width="0.3">μ</text>
<text x="252.54" y="59.80" font-family="Liberation Sans, sans-serif" font-weight="normal" font-size="14" stroke="#000" stroke-width="0.3">b</text>
<text x="287.41" y="80.96" font-family="Liberation Sans, sans-serif" font-weight="normal" font-size="14" stroke="#000" stroke-width="0.4">@</text>
<text x="283.09" y="103.32" font-family="Liberation Sans, sans-serif" font-weight="bold" font-size="17.5">*</text>
<text x="296.49" y="99.50" font-family="Liberation Serif, serif" font-weight="bold" font-size="15">ε</text>
<text x="324.89" y="43.42" font-family="Liberation Serif, serif" font-weight="normal" font-size="13.6" stroke="#000" stroke-width="0.3">μ</text>
<text x="339.04" y="43.84" font-family="Liberation Serif, serif" font-weight="bold" font-size="15">λ</text>
<text x="327.34" y="66.32" font-family="Liberation Sans, sans-serif" font-weight="bold" font-size="17.5">*</text>
<text x="339.24" y="60.86" font-family="Liberation Sans, sans-serif" font-weight="normal" font-size="14" stroke="#000" stroke-width="0.3">b</text>
<text x="527.94" y="79.80" font-family="Liberation Sans, sans-serif" font-weight="normal" font-size="14" stroke="#000" stroke-width="0.3">b</text>
<text x="572.09" y="80.75" font-family="Liberation Sans, sans-serif" font-weight="normal" font-size="14" stroke="#000" stroke-width="0.3">b</text>
<text x="616.09" y="97.25" font-family="Liberation Sans, sans-serif" font-weight="normal" font-size="14" stroke="#000" stroke-width="0.3">b</text>
<text x="702.44" y="58.86" font-family="Liberation Sans, sans-serif" font-weight="normal" font-size="14" stroke="#000" stroke-width="0.3">b</text>
<text x="713.79" y="57.75" font-family="Liberation Serif, serif" font-weight="bold" font-size="15">ε</text>
<text x="752.39" y="77.25" font-family="Liberation Sans, sans-serif" font-weight="normal" font-size="14" stroke="#000" stroke-width="0.3">b</text>
</svg>
</body></html>
